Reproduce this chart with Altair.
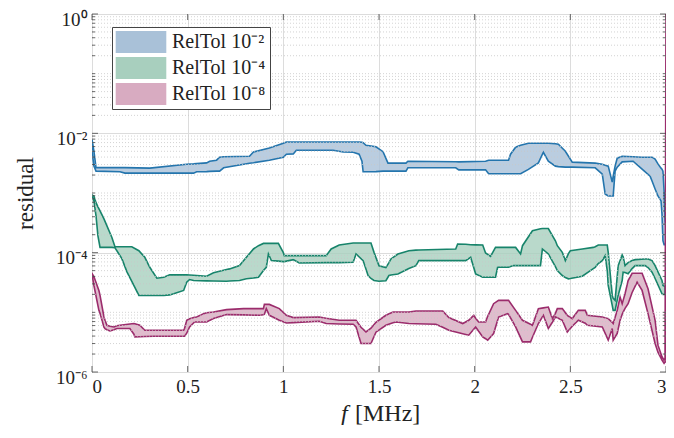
import altair as alt
import pandas as pd

# ---------------- data ----------------
series_names = ["RelTol 10⁻²", "RelTol 10⁻⁴", "RelTol 10⁻⁸"]
fill_colors = ["#a9c1d8", "#a8cfbe", "#d8abc1"]
edge_colors = ["#2475ad", "#17846b", "#9b2c6c"]

# frequency in MHz ; band limits given as log10(residual)
f_tol2 = [0, 0.010, 0.021, 0.146, 0.172, 0.302, 0.495, 0.531, 0.547, 0.599, 0.615, 0.651, 0.667, 0.688,
          0.823, 0.844, 0.927, 1.0, 1.016, 1.052, 1.068, 1.260, 1.3125, 1.365, 1.396, 1.411, 1.417, 1.432,
          1.484, 1.521, 1.547, 1.641, 1.651, 1.901, 1.917, 2.057, 2.073, 2.177, 2.1875, 2.214, 2.240, 2.281,
          2.333, 2.359, 2.385, 2.422, 2.4375, 2.474, 2.510, 2.630, 2.667, 2.682, 2.698, 2.719, 2.724, 2.734,
          2.745, 2.771, 2.828, 2.875, 2.917, 2.927, 2.943, 2.958, 2.974, 2.979, 2.984, 2.990, 2.995, 3.0]
hi_tol2 = [-2.10, -2.30, -2.575, -2.575, -2.575, -2.583, -2.517, -2.512, -2.508, -2.495, -2.467, -2.45, -2.40, -2.392,
           -2.383, -2.312, -2.245, -2.167, -2.145, -2.145, -2.145, -2.145, -2.145, -2.145, -2.145, -2.15, -2.158, -2.20,
           -2.225, -2.308, -2.50, -2.50, -2.467, -2.475, -2.478, -2.467, -2.45, -2.45, -2.35, -2.233, -2.20, -2.167,
           -2.167, -2.167, -2.167, -2.175, -2.183, -2.30, -2.483, -2.50, -2.517, -2.533, -2.55, -2.817, -2.717, -2.55,
           -2.417, -2.383, -2.392, -2.40, -2.40, -2.40, -2.433, -2.512, -2.583, -2.60, -2.633, -2.967, -3.467, -3.55]
lo_tol2 = [-2.30, -2.55, -2.633, -2.645, -2.667, -2.667, -2.667, -2.667, -2.645, -2.642, -2.638, -2.633, -2.633, -2.578,
           -2.50, -2.492, -2.45, -2.40, -2.35, -2.345, -2.283, -2.283, -2.312, -2.317, -2.35, -2.467, -2.645, -2.645,
           -2.642, -2.633, -2.633, -2.633, -2.578, -2.578, -2.612, -2.612, -2.678, -2.678, -2.678, -2.678, -2.678, -2.605,
           -2.495, -2.317, -2.467, -2.55, -2.558, -2.567, -2.567, -2.578, -2.683, -3.017, -3.05, -3.05, -3.05, -2.633,
           -2.567, -2.478, -2.467, -2.60, -2.717, -2.80, -2.933, -3.05, -3.133, -3.35, -3.80, -3.867, -3.867, -3.833]

f_tol4 = [0, 0.010, 0.021, 0.031, 0.042, 0.0625, 0.104, 0.120, 0.156, 0.182, 0.208, 0.245, 0.276, 0.302, 0.339,
          0.375, 0.406, 0.427, 0.479, 0.495, 0.510, 0.531, 0.599, 0.635, 0.703, 0.719, 0.771, 0.807, 0.844, 0.870,
          0.896, 0.911, 0.922, 0.9375, 0.974, 1.0, 1.005, 1.052, 1.083, 1.224, 1.25, 1.292, 1.365, 1.380, 1.417,
          1.443, 1.458, 1.474, 1.5, 1.536, 1.552, 1.5625, 1.599, 1.656, 1.693, 1.708, 1.901, 1.911, 1.953, 1.979,
          2.005, 2.042, 2.057, 2.083, 2.109, 2.120, 2.177, 2.203, 2.214, 2.240, 2.25, 2.302, 2.344, 2.354, 2.385,
          2.422, 2.432, 2.458, 2.474, 2.490, 2.5, 2.5625, 2.620, 2.630, 2.646, 2.667, 2.682, 2.693, 2.698, 2.719,
          2.724, 2.734, 2.75, 2.771, 2.776, 2.786, 2.802, 2.823, 2.839, 2.891, 2.906, 2.927, 2.943, 2.979, 2.984,
          2.995]
hi_tol4 = [-3.033, -3.05, -3.162, -3.233, -3.30, -3.433, -3.745, -3.90, -3.90, -3.90, -3.90, -3.967, -4.078, -4.245,
           -4.428, -4.412, -4.372, -4.372, -4.372, -4.372, -4.375, -4.378, -4.395, -4.338, -4.283, -4.272, -4.217,
           -4.078, -3.938, -3.883, -3.845, -3.845, -3.845, -3.845, -3.845, -4.0, -4.05, -4.05, -4.05, -4.05, -3.938,
           -3.872, -3.838, -3.838, -3.838, -3.838, -3.838, -3.995, -4.22, -4.25, -4.167, -4.105, -4.022, -3.967,
           -3.958, -3.955, -3.938, -3.855, -3.858, -3.867, -3.87, -3.872, -4.005, -4.062, -3.912, -3.912, -3.912,
           -3.912, -3.912, -4.022, -3.883, -3.633, -3.60, -3.595, -3.595, -3.80, -3.883, -3.995, -4.133, -4.017,
           -3.967, -3.938, -3.912, -3.90, -3.872, -3.872, -3.872, -3.872, -3.995, -4.717, -4.767, -4.80, -4.217,
           -4.038, -4.067, -4.217, -4.167, -4.133, -4.117, -4.105, -4.105, -4.133, -4.217, -4.467, -4.55, -4.567]
lo_tol4 = [-3.05, -3.133, -3.383, -3.717, -3.912, -3.912, -3.912, -3.917, -4.10, -4.317, -4.483, -4.717, -4.717,
           -4.717, -4.717, -4.717, -4.708, -4.688, -4.633, -4.495, -4.45, -4.467, -4.472, -4.475, -4.478, -4.475,
           -4.467, -4.438, -4.425, -4.412, -4.30, -4.245, -4.022, -4.133, -4.142, -4.15, -4.15, -4.117, -4.172,
           -4.167, -4.167, -4.167, -4.162, -4.022, -4.133, -4.383, -4.433, -4.467, -4.478, -4.47, -4.383, -4.375,
           -4.358, -4.267, -4.217, -4.133, -4.133, -4.133, -4.133, -4.078, -4.355, -4.412, -4.412, -4.412, -4.412,
           -4.245, -4.245, -4.217, -4.217, -4.217, -4.217, -4.217, -4.217, -3.938, -4.022, -4.233, -4.30, -4.383,
           -4.417, -4.438, -4.433, -4.395, -4.267, -4.245, -4.183, -4.133, -4.05, -4.30, -4.55, -4.883, -4.967,
           -4.967, -4.717, -4.467, -4.328, -4.333, -4.355, -4.267, -4.217, -4.217, -4.25, -4.328, -4.433, -4.688,
           -4.70, -4.70]

f_tol8 = [0, 0.010, 0.036, 0.042, 0.0625, 0.068, 0.078, 0.094, 0.115, 0.130, 0.146, 0.198, 0.219, 0.224, 0.25,
          0.276, 0.323, 0.479, 0.484, 0.495, 0.510, 0.536, 0.547, 0.583, 0.599, 0.635, 0.703, 0.792, 0.875, 0.896,
          0.901, 0.911, 0.927, 0.979, 1.016, 1.052, 1.1875, 1.224, 1.292, 1.365, 1.380, 1.406, 1.432, 1.458, 1.484,
          1.536, 1.573, 1.589, 1.656, 1.693, 1.797, 1.833, 1.865, 1.9375, 1.969, 1.995, 2.005, 2.021, 2.042, 2.057,
          2.068, 2.099, 2.125, 2.172, 2.177, 2.214, 2.25, 2.292, 2.302, 2.333, 2.359, 2.385, 2.406, 2.422, 2.432,
          2.458, 2.484, 2.510, 2.542, 2.578, 2.589, 2.667, 2.698, 2.719, 2.724, 2.745, 2.760, 2.771, 2.776, 2.786,
          2.802, 2.823, 2.849, 2.875, 2.906, 2.943, 2.958, 2.979, 2.990, 2.995, 3.0]
hi_tol8 = [-4.35, -4.40, -4.633, -4.717, -5.078, -5.133, -5.217, -5.233, -5.245, -5.225, -5.217, -5.195, -5.188,
           -5.192, -5.217, -5.30, -5.30, -5.30, -5.267, -5.133, -5.108, -5.083, -5.078, -5.022, -5.008, -4.995,
           -4.955, -4.938, -4.938, -4.938, -4.867, -4.867, -4.867, -4.938, -5.05, -5.088, -5.078, -5.10, -5.133,
           -5.133, -5.133, -5.25, -5.328, -5.267, -5.167, -5.05, -4.995, -4.995, -4.995, -4.978, -4.978, -4.978,
           -5.088, -5.188, -5.133, -5.05, -5.10, -5.162, -5.162, -5.162, -5.067, -4.855, -4.80, -4.80, -4.80,
           -4.967, -5.133, -5.20, -5.217, -4.938, -4.925, -4.912, -5.105, -5.017, -4.938, -4.938, -5.05, -5.105,
           -4.967, -4.967, -5.05, -5.078, -5.105, -5.167, -5.188, -4.967, -4.745, -4.855, -4.80, -4.688, -4.467,
           -4.345, -4.345, -4.345, -4.605, -5.133, -5.55, -5.745, -5.80, -5.767, 0.0]
lo_tol8 = [-4.36, -4.55, -4.967, -5.017, -5.25, -5.272, -5.292, -5.312, -5.292, -5.272, -5.272, -5.272, -5.367,
           -5.412, -5.408, -5.405, -5.40, -5.40, -5.40, -5.35, -5.245, -5.162, -5.162, -5.162, -5.162, -5.105,
           -5.038, -5.042, -5.05, -5.042, -5.033, -4.938, -5.05, -5.133, -5.178, -5.172, -5.15, -5.188, -5.195,
           -5.20, -5.245, -5.522, -5.522, -5.522, -5.333, -5.217, -5.175, -5.162, -5.188, -5.192, -5.20, -5.25,
           -5.30, -5.358, -5.383, -5.283, -5.245, -5.317, -5.412, -5.442, -5.467, -5.355, -5.078, -5.022, -5.033,
           -5.245, -5.495, -5.495, -5.417, -5.188, -5.05, -5.272, -5.167, -5.078, -5.092, -5.133, -5.328, -5.233,
           -5.133, -5.183, -5.217, -5.245, -5.467, -5.272, -5.467, -5.355, -5.133, -5.033, -4.995, -4.933, -4.855,
           -4.667, -4.495, -4.633, -5.022, -5.522, -5.667, -5.80, -5.855, -5.833, -5.833]

x_tick_values = [0, 0.5, 1, 1.5, 2, 2.5, 3]
y_major_values = [1e-6, 1e-4, 1e-2, 1]
y_major_labels = ["10⁻⁶", "10⁻⁴", "10⁻²", "10⁰"]
y_minor_values = [m * 10.0 ** k for k in range(-6, 0) for m in range(2, 10)] + [1e-5, 1e-3, 1e-1]

# ---------------- build tables ----------------
rows = []
for name, fs, his, los in [(series_names[0], f_tol2, hi_tol2, lo_tol2),
                           (series_names[1], f_tol4, hi_tol4, lo_tol4),
                           (series_names[2], f_tol8, hi_tol8, lo_tol8)]:
    for a, b, c in zip(fs, his, los):
        rows.append({"series": name, "f": a, "hi": 10.0 ** b, "lo": 10.0 ** c})
bands = pd.DataFrame(rows)

minor_df = pd.DataFrame({"hi": y_minor_values})
major_df = pd.DataFrame({"hi": y_major_values})
xt_df = pd.DataFrame({"f": x_tick_values})

W, H = 574, 358
FONT = "Liberation Serif"
label_expr = " : ".join(
    f"datum.value < {v * 1.5:.8f} ? '{l}'" for v, l in zip(y_major_values, y_major_labels)
) + " : ''"

xscale = alt.Scale(domain=[0, 3], nice=False, zero=False)
yscale = alt.Scale(type="log", domain=[1e-6, 1], nice=False)

xaxis = alt.Axis(values=x_tick_values, title=None, ticks=False, domain=False, format="~g",
                 labelFont=FONT, labelFontSize=19, labelColor="#222", labelPadding=5,
                 grid=True, gridColor="#dcdcdc", gridWidth=1)
yaxis = alt.Axis(values=y_major_values, labelExpr=label_expr, ticks=False, domain=False,
                 labelFont=FONT, labelFontSize=19, labelColor="#222", labelPadding=5,
                 labelOffset=5,
                 grid=True, gridColor="#dcdcdc", gridWidth=1,
                 title="residual", titleFont=FONT, titleFontSize=23, titleFontWeight="normal",
                 titleColor="#222", titleX=-67, titleY=H / 2, titleAngle=270,
                 titleAlign="center", titleBaseline="middle")

X = lambda: alt.X("f:Q", scale=xscale, axis=xaxis)
Y = lambda: alt.Y("hi:Q", scale=yscale, axis=yaxis)

areas = alt.Chart(bands).mark_area(fillOpacity=0.8, strokeWidth=1.6, clip=True).encode(
    x=X(),
    y=Y(),
    y2="lo:Q",
    fill=alt.Fill("series:N", scale=alt.Scale(domain=series_names, range=fill_colors),
                  legend=alt.Legend(title=None, orient="none", legendX=20, legendY=13,
                                    labelFont=FONT, labelFontSize=20, labelColor="#222",
                                    symbolType="M-2.3,-1H2.3V1H-2.3Z", symbolSize=484,
                                    symbolOffset=14, labelOffset=20,
                                    symbolStrokeWidth=0, symbolOpacity=1, rowPadding=4,
                                    padding=4, strokeColor="#444",
                                    fillColor="white")),
    stroke=alt.Stroke("series:N", scale=alt.Scale(domain=series_names, range=edge_colors), legend=None),
)

# minor dotted grid
minor_grid = alt.Chart(minor_df).mark_rule(color="#c8c8c8", strokeWidth=0.8, strokeDash=[1, 2]).encode(y=Y())

# inward tick marks
yl_minor = alt.Chart(minor_df).mark_rule(color="#444", strokeWidth=0.8).encode(
    y=Y(), x=alt.value(0), x2=alt.value(3))
yr_minor = alt.Chart(minor_df).mark_rule(color="#444", strokeWidth=0.8).encode(
    y=Y(), x=alt.value(W), x2=alt.value(W - 3))
yl_major = alt.Chart(major_df).mark_rule(color="#444", strokeWidth=0.8).encode(
    y=Y(), x=alt.value(0), x2=alt.value(6))
yr_major = alt.Chart(major_df).mark_rule(color="#444", strokeWidth=0.8).encode(
    y=Y(), x=alt.value(W), x2=alt.value(W - 6))
xb = alt.Chart(xt_df).mark_rule(color="#444", strokeWidth=0.8).encode(
    x=X(), y=alt.value(H), y2=alt.value(H - 6))
xtop = alt.Chart(xt_df).mark_rule(color="#444", strokeWidth=0.8).encode(
    x=X(), y=alt.value(0), y2=alt.value(6))

# x-axis title: italic f + [MHz]
xt_f = alt.Chart(pd.DataFrame({"t": ["f"]})).mark_text(
    font=FONT, fontSize=24, fontStyle="italic", align="left", baseline="middle", color="#222"
).encode(text="t:N", x=alt.value(249), y=alt.value(400))
xt_u = alt.Chart(pd.DataFrame({"t": ["[MHz]"]})).mark_text(
    font=FONT, fontSize=24, align="left", baseline="middle", color="#222"
).encode(text="t:N", x=alt.value(263), y=alt.value(400))

chart = alt.layer(areas, minor_grid, yl_minor, yr_minor, yl_major, yr_major, xb, xtop, xt_f, xt_u).properties(
    width=W, height=H, background="white",
    autosize=alt.AutoSizeParams(type="none"),
    padding={"left": 84, "top": 6, "right": 0, "bottom": 53},
).configure_view(stroke="#3a3a3a", strokeWidth=1)

chart.save("out.html", embed_options={"renderer": "svg", "actions": False})
